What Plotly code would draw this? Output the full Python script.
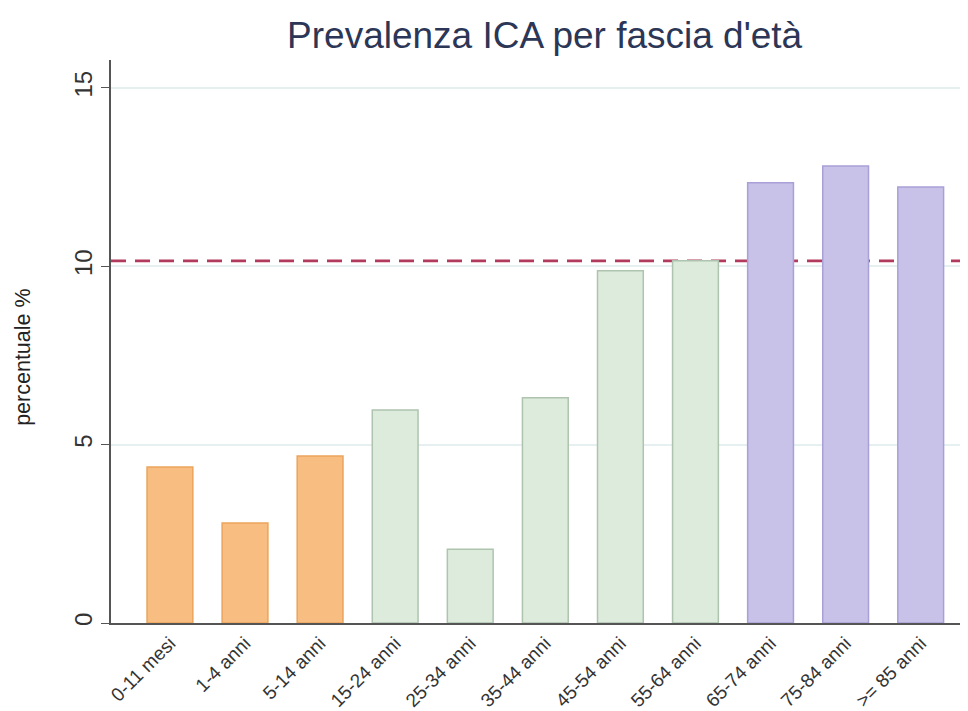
import plotly.graph_objects as go

categories = ["0-11 mesi", "1-4 anni", "5-14 anni", "15-24 anni", "25-34 anni",
              "35-44 anni", "45-54 anni", "55-64 anni", "65-74 anni", "75-84 anni", ">= 85 anni"]
values = [4.37, 2.80, 4.68, 5.97, 2.07, 6.31, 9.87, 10.15, 12.34, 12.81, 12.22]
groups = ["young"] * 3 + ["adult"] * 5 + ["old"] * 3
reference_value = 10.15
y_ticks = [0, 5, 10, 15]

fill = {"young": "#f8bd80", "adult": "#dcebdc", "old": "#c8c1e8"}
edge = {"young": "#eba45c", "adult": "#aec4ae", "old": "#a9a0d8"}

fig = go.Figure()
fig.add_trace(go.Bar(
    x=list(range(len(categories))), y=values, width=0.61,
    marker=dict(color=[fill[g] for g in groups],
                line=dict(color=[edge[g] for g in groups], width=1.5)),
    hoverinfo="x+y", showlegend=False,
))
fig.add_shape(type="line", xref="paper", x0=0, x1=1, yref="y",
              y0=reference_value, y1=reference_value, layer="below",
              line=dict(color="#b23a5c", width=2.6, dash="15px,9px"))

fig.add_annotation(text="percentuale %", xref="paper", yref="paper",
                   x=-0.102, y=0.472, xanchor="center", yanchor="middle",
                   textangle=-90, showarrow=False,
                   font=dict(size=21.5, color="#222"))

fig.update_layout(
    width=960, height=703,
    margin=dict(l=103, r=0, t=52, b=88, autoexpand=False),
    paper_bgcolor="white", plot_bgcolor="white",
    font=dict(family="Liberation Sans, Arial, sans-serif", color="#222"),
    title=dict(text="Prevalenza ICA per fascia d'età", x=0.559, xanchor="center",
               y=0.962, yanchor="middle",
               font=dict(size=37, color="#2c3656")),
    bargap=0.39,
)
fig.update_xaxes(
    range=[-0.785, 10.63], tickmode="array",
    tickvals=list(range(len(categories))), ticktext=categories,
    tickangle=-45, tickfont=dict(size=19, color="#333"),
    showline=True, linecolor="#555", linewidth=1.5,
    showgrid=False, ticks="", zeroline=False, automargin=False,
)
fig.update_yaxes(
    range=[0, 15.78], tickvals=y_ticks, tickangle=-90,
    tickfont=dict(size=24, color="#333"),
    ticks="outside", ticklen=8, tickcolor="#555",
    showline=True, linecolor="#555", linewidth=1.5,
    showgrid=True, gridcolor="#e6f0f1", gridwidth=1.5, zeroline=False,
    automargin=False,
)

fig.write_html("out.html")
